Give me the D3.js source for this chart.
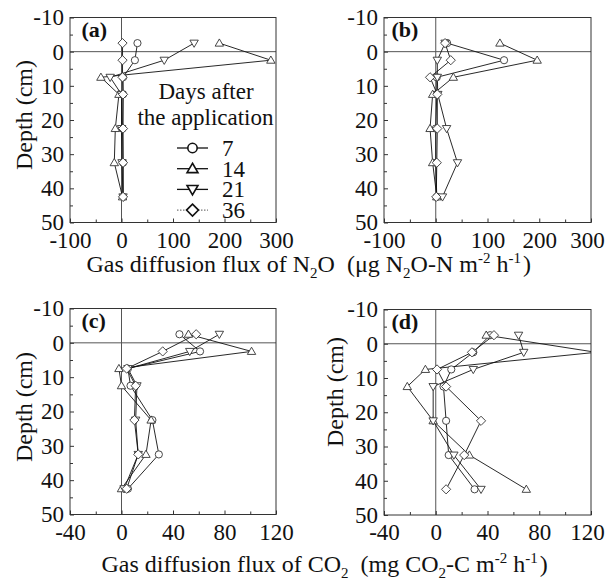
<!DOCTYPE html>
<html>
<meta charset="utf-8">
<style>
body{margin:0;background:#fff;}
text{font-family:"Liberation Serif","Times New Roman",serif;fill:#111;}
.frame{fill:none;stroke:#333;stroke-width:1;}
.zero{stroke:#555;stroke-width:1;}
.axis path{display:none;}
.axis line{stroke:#333;}
.series{fill:none;stroke:#111;stroke-width:0.9;}
.mark{fill:#fff;stroke:#333;stroke-width:0.9;}
</style>
<body>
<script src="https://d3js.org/d3.v7.min.js"></script>
<script>
// sampling depths (cm); negative = above the soil surface
var depths = [-2.5, 2.5, 7.5, 12.5, 22.5, 32.5, 42.5];
var days = ["7", "14", "21", "36"];

// N2O flux, µg N2O-N m-2 h-1
var a7  = [31, 26, 3, 3, 2, 3, 3];
var a14 = [190, 290, -40, -5, -12, -14, 2];
var a21 = [141, 83, -22, 0, 0, 1, 3];
var a36 = [2, 2, 2, 3, 3, 3, 3];

var b7  = [22, 132, 2, 2, 0, 0, 2];
var b14 = [124, 196, 34, -6, -11, -6, 2];
var b21 = [18, 3, 3, 4, 21, 42, 13];
var b36 = [18, 29, -11, 3, 3, 2, 1];

// CO2 flux, mg CO2-C m-2 h-1
var c7  = [45, 61, 5, 7, 24, 29, 5];
var c14 = [52, 101, -2, 0, 23, 19, 0];
var c21 = [76, 53, 5, 12, 11, 13, 2];
var c36 = [58, 32, 4, 11, 10, 13, 4];

var d7  = [42, 29, 12, 6, 8, 10, 30];
var d14 = [39, 124, -8, -22, -2, 26, 70];
var d21 = [64, 68, 29, -2, -2, 14, 35];
var d36 = [45, 28, 1, 8, 35, 22, 8];

var yTicks = [-10, 0, 10, 20, 30, 40, 50];
var n2oTicks = [-100, 0, 100, 200, 300];
var co2Ticks = [-40, 0, 40, 80, 120];

var svg = d3.select("body").append("svg").attr("width", 606).attr("height", 585);

var panels = [
  {id:"(a)", left:70,  top:17.5,  w:206, h:205,   xd:[-100,300], xt:n2oTicks, minor:50, data:[a7,a14,a21,a36], ytitle:[31.5,115], legend:true},
  {id:"(b)", left:384, top:17.5,  w:207, h:205,   xd:[-100,300], xt:n2oTicks, minor:50, data:[b7,b14,b21,b36]},
  {id:"(c)", left:70,  top:308.5, w:206, h:206,   xd:[-40,120],  xt:co2Ticks, minor:20, data:[c7,c14,c21,c36], ytitle:[31.5,407]},
  {id:"(d)", left:384, top:309.5, w:207, h:205.5, xd:[-40,120],  xt:co2Ticks, minor:20, data:[d7,d14,d21,d36], ytitle:[343,392]}
];

// marker shapes
function shape(sel, k, s) {
  if (k == 0) return sel.append("circle").attr("r", 3.6 * s);
  var p;
  if (k == 1) p = "M0," + (-4.2*s) + "L" + (4.2*s) + "," + (3*s) + "L" + (-4.2*s) + "," + (3*s) + "Z";
  if (k == 2) p = "M0," + (4.2*s) + "L" + (4.2*s) + "," + (-3*s) + "L" + (-4.2*s) + "," + (-3*s) + "Z";
  if (k == 3) p = "M0," + (-4.6*s) + "L" + (4.6*s) + ",0L0," + (4.6*s) + "L" + (-4.6*s) + ",0Z";
  return sel.append("path").attr("d", p);
}

panels.forEach(function(P, pi){
  var g = svg.append("g").attr("transform", "translate(" + P.left + "," + P.top + ")");
  var x = d3.scaleLinear().domain(P.xd).range([0, P.w]);
  var y = d3.scaleLinear().domain([-10, 50]).range([0, P.h]);

  g.append("clipPath").attr("id", "clip" + pi)
    .append("rect").attr("width", P.w).attr("height", P.h);

  // zero lines
  g.append("line").attr("class","zero").attr("x1",0).attr("x2",P.w).attr("y1",y(0)).attr("y2",y(0));
  g.append("line").attr("class","zero").attr("x1",x(0)).attr("x2",x(0)).attr("y1",0).attr("y2",P.h);

  // axes with inward ticks
  var fmt = function(d){ return String(d); };
  g.append("g").attr("class","axis")
    .call(d3.axisLeft(y).tickValues(yTicks).tickSize(-4).tickPadding(6).tickFormat(fmt));
  g.append("g").attr("class","axis")
    .call(d3.axisLeft(y).tickValues(d3.range(-5, 50, 10)).tickSize(-3).tickFormat(""));
  var xa = g.append("g").attr("class","axis").attr("transform","translate(0," + P.h + ")")
    .call(d3.axisBottom(x).tickValues(P.xt).tickSize(-4).tickPadding(9).tickFormat(fmt));
  g.append("g").attr("class","axis").attr("transform","translate(0," + P.h + ")")
    .call(d3.axisBottom(x).tickValues(d3.range(P.xd[0] + P.minor, P.xd[1], P.minor * 2)).tickSize(-3).tickFormat(""));
  g.selectAll(".axis text").attr("font-size", 23).attr("font-family", "Liberation Serif").attr("fill", "#111");
  // keep the last label of the right-hand panels inside the page
  if (P.left > 300) xa.selectAll("text").filter(function(d){ return d == P.xd[1]; }).attr("dx", -4);

  g.append("rect").attr("class","frame").attr("width",P.w).attr("height",P.h);

  var pg = g.append("g").attr("clip-path", "url(#clip" + pi + ")");
  var line = d3.line().x(function(d){ return x(d[0]); }).y(function(d){ return y(d[1]); });

  P.data.forEach(function(vals){
    var pts = vals.map(function(v, i){ return [v, depths[i]]; });
    pg.append("path").attr("class","series").attr("d", line(pts));
  });
  P.data.forEach(function(vals, k){
    vals.forEach(function(v, i){
      var m = pg.append("g").attr("transform","translate(" + x(v) + "," + y(depths[i]) + ")");
      shape(m, k, 1).attr("class","mark");
    });
  });

  g.append("text").attr("x", P.left < 200 ? 11.5 : 7.5).attr("y", 19.5)
    .attr("font-size", 22).attr("font-weight","bold").text(P.id);

  if (P.ytitle) {
    svg.append("text").attr("transform","translate(" + P.ytitle[0] + "," + P.ytitle[1] + ") rotate(-90)")
      .attr("text-anchor","middle").attr("font-size", 24).text("Depth (cm)");
  }

  if (P.legend) {
    var lg = g.append("g");
    lg.append("text").attr("x", 136).attr("y", 81.5).attr("text-anchor","middle").attr("font-size", 23).text("Days after");
    lg.append("text").attr("x", 135.5).attr("y", 107.5).attr("text-anchor","middle").attr("font-size", 23).text("the application");
    days.forEach(function(dd, k){
      var cy = 130.5 + k * 20.7;
      lg.append("line").attr("x1",107).attr("x2",138).attr("y1",cy).attr("y2",cy)
        .attr("stroke", k == 3 ? "#777" : "#111").attr("stroke-width", 1.3)
        .attr("stroke-dasharray", k == 3 ? "1.5,1.5" : null);
      var m = lg.append("g").attr("transform","translate(122.5," + cy + ")");
      shape(m, k, 1.3).attr("fill","#fff").attr("stroke","#111").attr("stroke-width",1.6);
      lg.append("text").attr("x", 152).attr("y", cy + 8).attr("font-size", 23).text(dd);
    });
  }
});

// x-axis titles with sub/superscripts; p[2] = extra gap before the part
function title(parts, x0, y0) {
  var t = svg.append("text").attr("x", x0).attr("y", y0).attr("font-size", 24);
  var shift = 0;
  parts.forEach(function(p){
    var s = t.append("tspan").text(p[0]);
    var target = p[1] == "sub" ? 6 : p[1] == "sup" ? -9 : 0;
    if (target != shift) { s.attr("dy", target - shift); shift = target; }
    if (p[2]) s.attr("dx", p[2]);
    if (p[1] == "sub") s.attr("font-size", 15);
    if (p[1] == "sup") s.attr("font-size", 15);
  });
}
title([["Gas diffusion flux of N",""],["2","sub"],["O",""],["(μg N","",12],["2","sub"],["O-N m",""],["-2","sup"],["h","",6],["-1","sup"],[")","",2]], 86.5, 272);
title([["Gas diffusion flux of CO",""],["2","sub"],["(mg CO","",12],["2","sub"],["-C m",""],["-2","sup"],["h","",6],["-1","sup"],[")","",2]], 101.5, 572);
</script>
</body>
</html>
